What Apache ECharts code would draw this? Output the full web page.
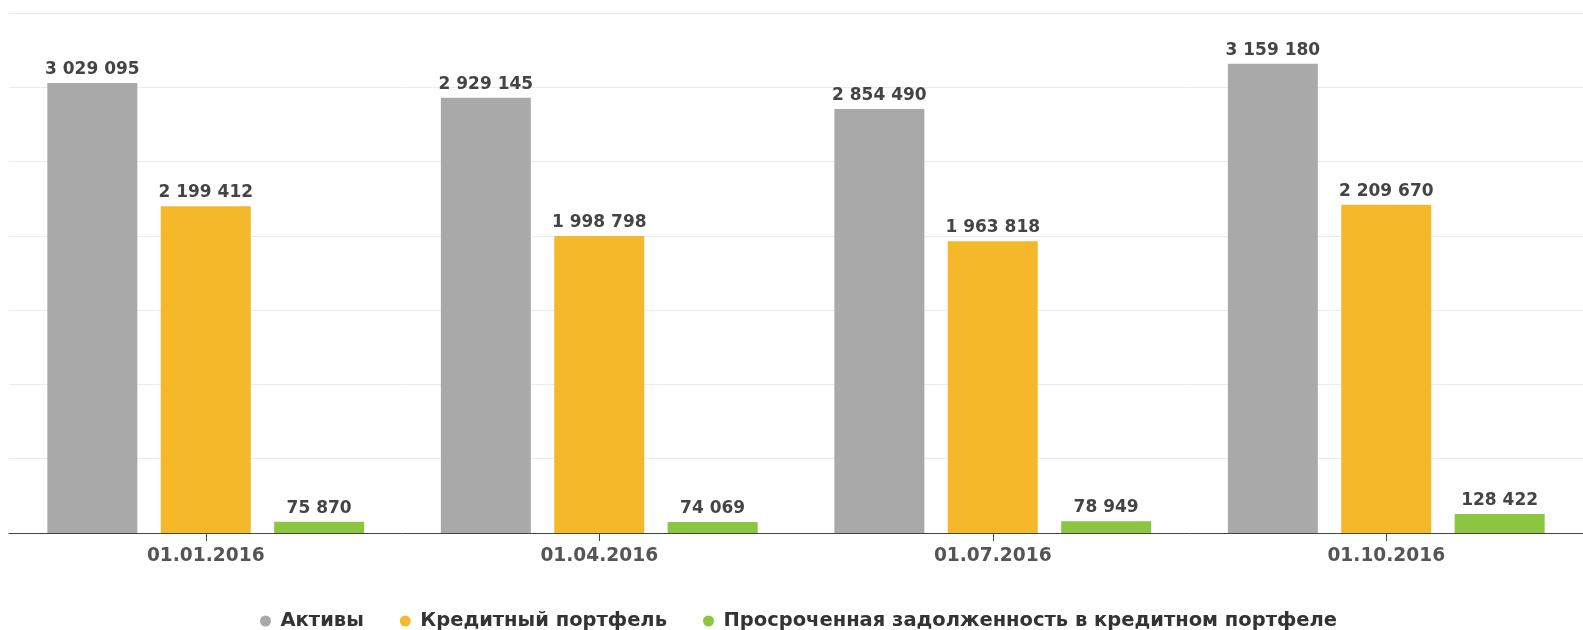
<!DOCTYPE html>
<html>
<head>
<meta charset="utf-8">
<script src="https://cdn.jsdelivr.net/npm/echarts@6/dist/echarts.min.js"></script>
<style>
  html, body { margin: 0; padding: 0; background: #fff; }
  #chart { width: 1583px; height: 630px; }
</style>
</head>
<body>
<div id="chart"></div>
<script>
// Reporting dates
const dates = ['01.01.2016', '01.04.2016', '01.07.2016', '01.10.2016'];

// Series values, thousand rubles
const assets = [3029095, 2929145, 2854490, 3159180];
const loanPortfolio = [2199412, 1998798, 1963818, 2209670];
const overdueDebt = [75870, 74069, 78949, 128422];

const seriesNames = ['Активы', 'Кредитный портфель', 'Просроченная задолженность в кредитном портфеле'];
const seriesColors = ['#a9a9a9', '#f6b82b', '#8cc540'];

// Thousands separated by spaces: 3 029 095
function fmt(v) {
  return String(v).replace(/\B(?=(\d{3})+(?!\d))/g, ' ');
}

const labelFont = 'DejaVu Sans';

function barSeries(name, data, color) {
  return {
    name: name,
    type: 'bar',
    data: data,
    barWidth: 90,
    barGap: '26%',
    itemStyle: { color: color },
    label: {
      show: true,
      position: 'top',
      distance: 5,
      color: '#444',
      fontFamily: labelFont,
      fontWeight: 'bold',
      fontSize: 17,
      formatter: p => fmt(p.value)
    }
  };
}

const chart = echarts.init(document.getElementById('chart'));
chart.setOption({
  animation: false,
  backgroundColor: '#fff',
  grid: { left: 9, top: 13, width: 1582, height: 520, containLabel: false },
  legend: {
    top: 606,
    left: 255,
    icon: 'circle',
    itemWidth: 20,
    itemHeight: 11,
    itemGap: 36,
    textStyle: { color: '#333', fontFamily: labelFont, fontWeight: 'bold', fontSize: 19.5 },
    data: seriesNames
  },
  xAxis: {
    type: 'category',
    data: dates,
    axisLine: { lineStyle: { color: '#444', width: 1 } },
    axisTick: { show: true, alignWithLabel: true, length: 8, lineStyle: { color: '#444' } },
    axisLabel: {
      color: '#555',
      fontFamily: labelFont,
      fontWeight: 'bold',
      fontSize: 18.6,
      margin: 14
    }
  },
  yAxis: {
    type: 'value',
    min: 0,
    max: 3500000,
    interval: 500000,
    axisLabel: { show: false },
    axisLine: { show: false },
    axisTick: { show: false },
    splitLine: { lineStyle: { color: '#ebebeb', width: 1 } }
  },
  series: [
    barSeries(seriesNames[0], assets, seriesColors[0]),
    barSeries(seriesNames[1], loanPortfolio, seriesColors[1]),
    barSeries(seriesNames[2], overdueDebt, seriesColors[2])
  ]
});
</script>
</body>
</html>
